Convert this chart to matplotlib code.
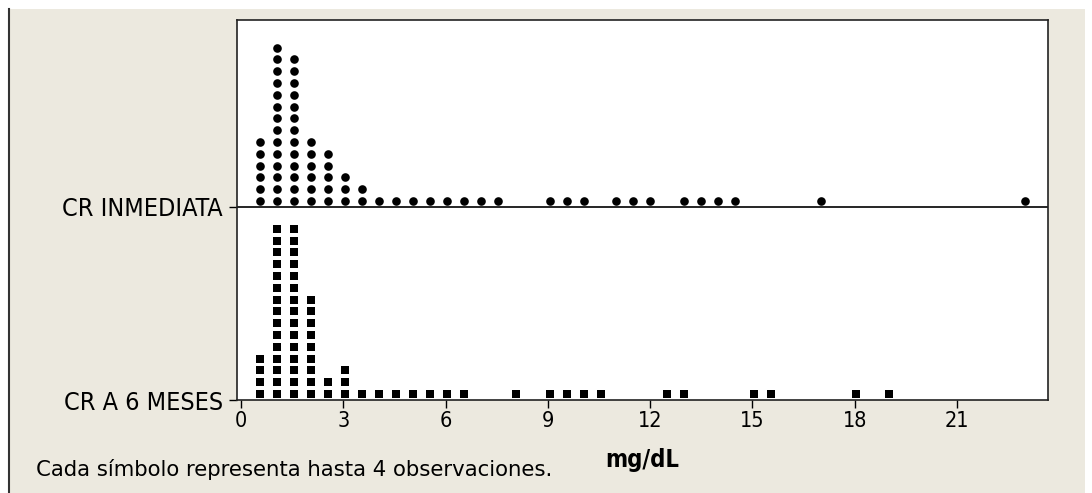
import matplotlib
matplotlib.use("Agg")
import matplotlib.pyplot as plt
from matplotlib.patches import Rectangle
import numpy as np

# dot columns (bin centre in mg/dL) and number of symbols stacked in each
inmediata_x = [0.55, 1.05, 1.55, 2.05, 2.55, 3.05, 3.55, 4.05, 4.55, 5.05, 5.55,
               6.05, 6.55, 7.05, 7.55, 9.05, 9.55, 10.05, 11.0, 11.5, 12.0,
               13.0, 13.5, 14.0, 14.5, 17.0, 23.0]
inmediata_n = [6, 14, 13, 6, 5, 3, 2, 1, 1, 1, 1,
               1, 1, 1, 1, 1, 1, 1, 1, 1, 1,
               1, 1, 1, 1, 1, 1]

meses_x = [0.55, 1.05, 1.55, 2.05, 2.55, 3.05, 3.55, 4.05, 4.55, 5.05, 5.55,
           6.05, 6.55, 8.05, 9.05, 9.55, 10.05, 10.55, 12.5, 13.0, 15.05,
           15.55, 18.05, 19.0]
meses_n = [4, 15, 15, 9, 2, 3, 1, 1, 1, 1, 1,
           1, 1, 1, 1, 1, 1, 1, 1, 1, 1,
           1, 1, 1]

groups = ["CR A 6 MESES", "CR INMEDIATA"]
xticks = [0, 3, 6, 9, 12, 15, 18, 21]
note = "Cada símbolo representa hasta 4 observaciones."

W, H = 1092, 493
fig = plt.figure(figsize=(W / 100, H / 100), dpi=100)
fig.patch.set_facecolor("white")
# beige window background with dark left edge
fig.patches.append(Rectangle((8 / W, 0), (1085 - 8) / W, (H - 9) / H,
                             transform=fig.transFigure, facecolor="#ECE9DF",
                             edgecolor="none", zorder=-5))
fig.lines.append(plt.Line2D([8.5 / W, 8.5 / W], [0, (H - 9) / H],
                            transform=fig.transFigure, color="#333333", lw=1.5,
                            zorder=-4))

ax = fig.add_axes([237 / W, 1 - 400 / H, (1048 - 237) / W, (400 - 20) / H])
ax.set_facecolor("white")
ax.set_zorder(1)

# pixel based stacking: one unit of y = 193 px
unit = 193.0
step = 11.8 / unit
off = 6.0 / unit


def stack(xs, ns, base, marker, ms):
    px, py = [], []
    for x, n in zip(xs, ns):
        for k in range(n):
            px.append(x)
            py.append(base + off + k * step)
    ax.plot(px, py, linestyle="none", marker=marker, ms=ms, color="black",
            markeredgewidth=0)


stack(inmediata_x, inmediata_n, 1, "o", 6.2)
stack(meses_x, meses_n, 0, "s", 5.6)

ax.axhline(1, color="black", lw=1.2)
ax.set_xlim(-0.12, 23.67)
ax.set_ylim(0, 1 + 187 / unit)
ax.set_xticks(xticks)
ax.set_xticklabels([str(t) for t in xticks], fontsize=15.5, family="DejaVu Sans",
                   stretch="condensed")
ax.set_yticks([0, 1])
ax.set_yticklabels(groups, fontsize=18, family="DejaVu Sans", stretch="condensed")
ax.tick_params(direction="out", length=6, width=1, color="black", pad=2)
ax.tick_params(axis="y", pad=4)
for s in ax.spines.values():
    s.set_color("#222222")
    s.set_linewidth(1.2)

ax.set_xlabel("mg/dL", fontsize=17, fontweight="bold", labelpad=12,
              family="DejaVu Sans", stretch="condensed")
fig.text(36 / W, 1 - 470 / H, note, fontsize=15.3, va="center", ha="left",
         family="DejaVu Sans", stretch="normal")

fig.savefig("out.png", dpi=100, facecolor=fig.get_facecolor())
